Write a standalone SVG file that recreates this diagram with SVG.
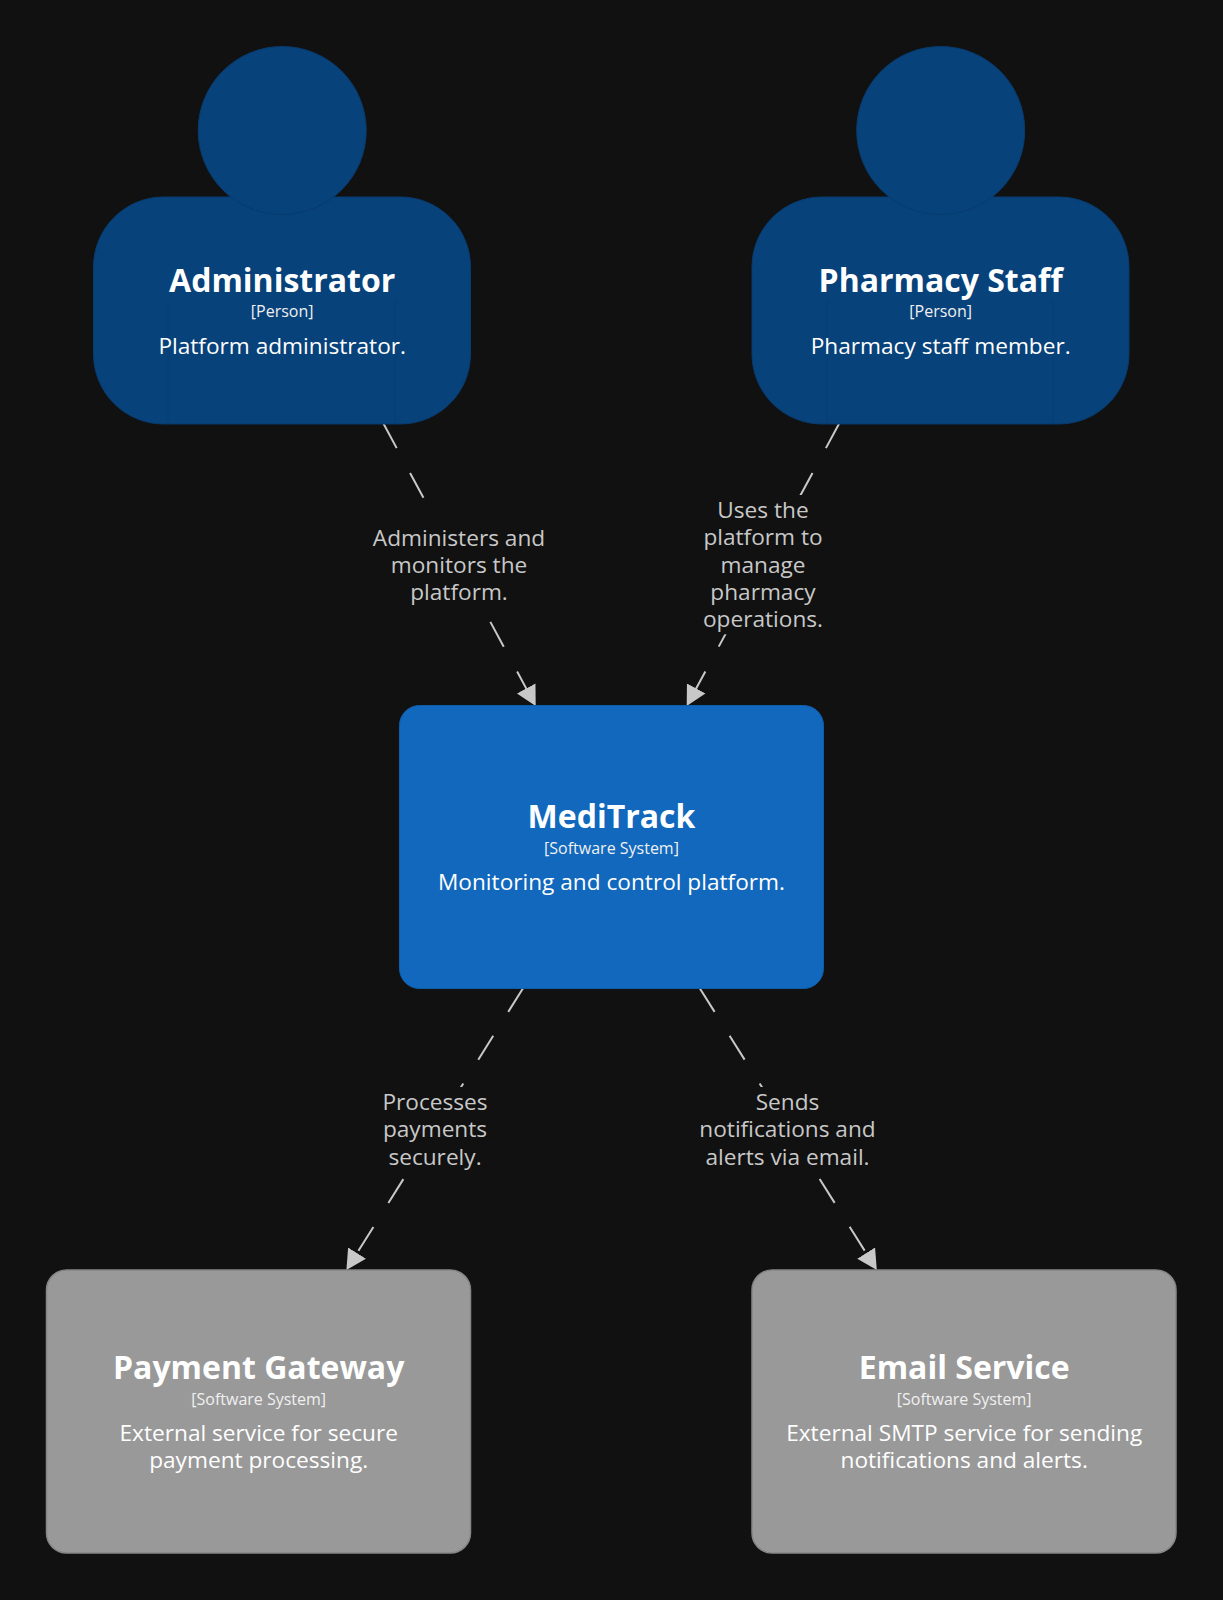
<svg xmlns="http://www.w3.org/2000/svg" width="1223" height="1600" viewBox="0 0 1223 1600">
<style>
text{font-family:"Open Sans","Noto Sans","DejaVu Sans",sans-serif;text-anchor:middle;fill:#fff}
.t{font-size:32px;font-weight:700}
.m{font-size:16px;fill:#f0f0f0}
.d{font-size:22.65px}
.l{font-size:22.65px;fill:#c8c8c8}
.p{fill:#08427b;stroke:#073b6e;stroke-width:1}
.f{stroke:#0a3a6b;stroke-width:1;opacity:.5;fill:none}
.s{fill:#1168bd;stroke:#0f5eaa;stroke-width:1}
.x{fill:#999999;stroke:#868686;stroke-width:1.5}
.c{fill:none;stroke:#c8c8c8;stroke-width:2;stroke-dasharray:28.2 28.2;marker-end:url(#a)}
.b{fill:#111111}
</style>
<defs>
<marker id="a" markerUnits="userSpaceOnUse" markerWidth="22" markerHeight="24" refX="20" refY="11" orient="auto"><path d="M0,0.5 L20,11 L0,21.5 Z" fill="#c8c8c8"/></marker>
</defs>
<rect width="1223" height="1600" fill="#111111"/>
<g id="connectors">
<path class="c" d="M383.3 423.3 L535.7 706"/>
<rect class="b" x="372" y="522" width="174" height="90"/>
<text class="l" x="459" y="545.5">Administers and</text><text class="l" x="459" y="572.5">monitors the</text><text class="l" x="459" y="600">platform.</text>
<path class="c" d="M839.3 423.3 L686.7 706"/>
<rect class="b" x="703" y="495" width="122" height="139.3"/>
<text class="l" x="763" y="518">Uses the</text><text class="l" x="763" y="545">platform to</text><text class="l" x="763" y="572.5">manage</text><text class="l" x="763" y="599.5">pharmacy</text><text class="l" x="763" y="626.5">operations.</text>
<path class="c" d="M523.2 988 L346.4 1270"/>
<rect class="b" x="380" y="1087" width="112" height="88"/>
<text class="l" x="435" y="1110">Processes</text><text class="l" x="435" y="1137">payments</text><text class="l" x="435" y="1164.5">securely.</text>
<path class="c" d="M699.6 988 L876.8 1270"/>
<rect class="b" x="698" y="1087" width="180" height="88"/>
<text class="l" x="787.5" y="1110">Sends</text><text class="l" x="787.5" y="1137">notifications and</text><text class="l" x="787.5" y="1164.5">alerts via email.</text>
</g>
<g id="administrator">
<rect class="p" x="93.5" y="197" width="377" height="227" rx="70"/>
<circle class="p" cx="282.2" cy="130.5" r="84"/>
<path class="f" d="M168 300 V424 M395 300 V424"/>
<text class="t" x="282.2" y="291.5">Administrator</text>
<text class="m" x="282.2" y="317">[Person]</text>
<text class="d" x="282.2" y="353.5">Platform administrator.</text>
</g>
<g id="pharmacy-staff">
<rect class="p" x="752" y="197" width="377" height="227" rx="70"/>
<circle class="p" cx="940.7" cy="130.5" r="84"/>
<path class="f" d="M827 300 V424 M1053 300 V424"/>
<text class="t" x="940.7" y="291.5">Pharmacy Staff</text>
<text class="m" x="940.7" y="317">[Person]</text>
<text class="d" x="940.7" y="353.5">Pharmacy staff member.</text>
</g>
<g id="meditrack">
<rect class="s" x="399.5" y="705.5" width="424" height="283" rx="20"/>
<text class="t" x="611.5" y="828">MediTrack</text>
<text class="m" x="611.5" y="854">[Software System]</text>
<text class="d" x="611.5" y="890">Monitoring and control platform.</text>
</g>
<g id="payment-gateway">
<rect class="x" x="46.5" y="1270" width="424" height="283" rx="20"/>
<text class="t" x="258.7" y="1379">Payment Gateway</text>
<text class="m" x="258.7" y="1405">[Software System]</text>
<text class="d" x="258.7" y="1440.5">External service for secure</text>
<text class="d" x="258.7" y="1467.5">payment processing.</text>
</g>
<g id="email-service">
<rect class="x" x="752" y="1270" width="424" height="283" rx="20"/>
<text class="t" x="964.2" y="1379">Email Service</text>
<text class="m" x="964.2" y="1405">[Software System]</text>
<text class="d" x="964.2" y="1440.5">External SMTP service for sending</text>
<text class="d" x="964.2" y="1467.5">notifications and alerts.</text>
</g>
</svg>
